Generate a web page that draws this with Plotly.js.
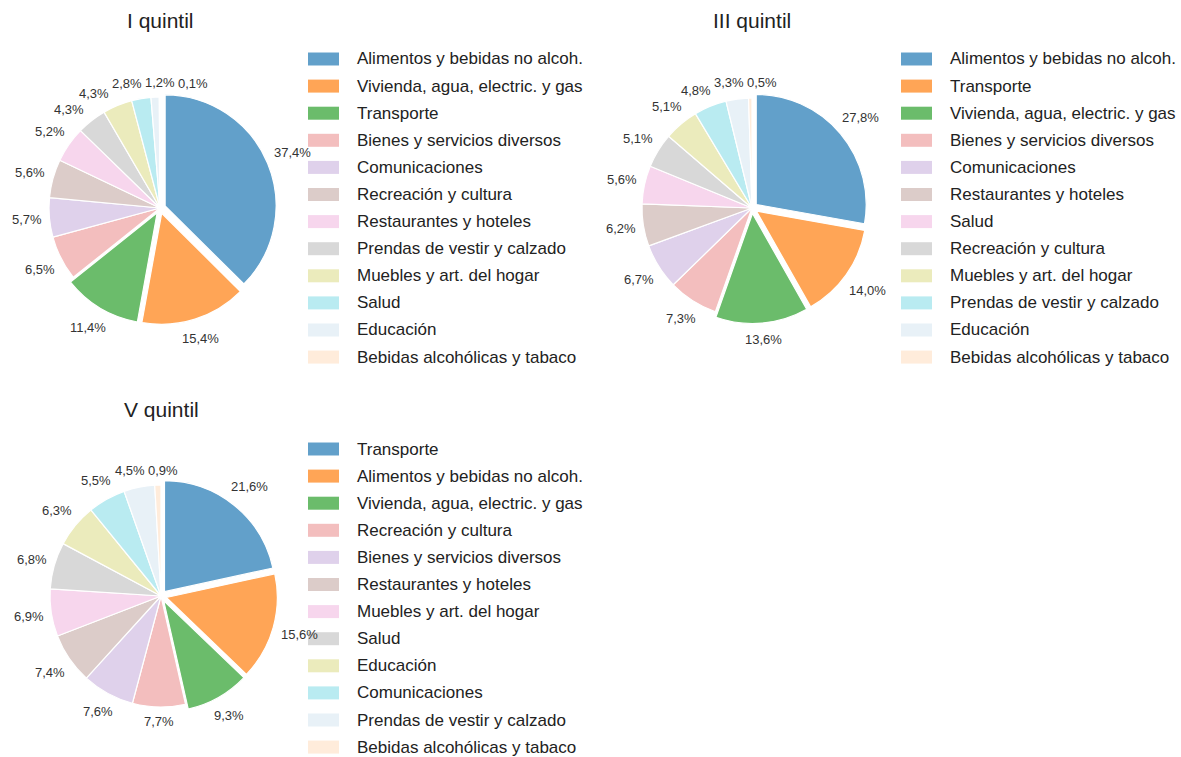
<!DOCTYPE html>
<html><head><meta charset="utf-8">
<script src="https://cdn.plot.ly/plotly-3.0.1.min.js"></script>
<style>html,body{margin:0;padding:0;background:#fff}</style>
</head><body><div id="chart" style="width:1181px;height:757px"></div>
<script>
// ---- data ----
const titles = ['I quintil', 'III quintil', 'V quintil'];

const labelsQ1 = ['Alimentos y bebidas no alcoh.', 'Vivienda, agua, electric. y gas', 'Transporte',
  'Bienes y servicios diversos', 'Comunicaciones', 'Recreación y cultura', 'Restaurantes y hoteles',
  'Prendas de vestir y calzado', 'Muebles y art. del hogar', 'Salud', 'Educación', 'Bebidas alcohólicas y tabaco'];
const valuesQ1 = [37.4, 15.4, 11.4, 6.5, 5.7, 5.6, 5.2, 4.3, 4.3, 2.8, 1.2, 0.1];

const labelsQ3 = ['Alimentos y bebidas no alcoh.', 'Transporte', 'Vivienda, agua, electric. y gas',
  'Bienes y servicios diversos', 'Comunicaciones', 'Restaurantes y hoteles', 'Salud',
  'Recreación y cultura', 'Muebles y art. del hogar', 'Prendas de vestir y calzado', 'Educación', 'Bebidas alcohólicas y tabaco'];
const valuesQ3 = [27.8, 14.0, 13.6, 7.3, 6.7, 6.2, 5.6, 5.1, 5.1, 4.8, 3.3, 0.5];

const labelsQ5 = ['Transporte', 'Alimentos y bebidas no alcoh.', 'Vivienda, agua, electric. y gas',
  'Recreación y cultura', 'Bienes y servicios diversos', 'Restaurantes y hoteles', 'Muebles y art. del hogar',
  'Salud', 'Educación', 'Comunicaciones', 'Prendas de vestir y calzado', 'Bebidas alcohólicas y tabaco'];
const valuesQ5 = [21.6, 15.6, 9.3, 7.7, 7.6, 7.4, 6.9, 6.8, 6.3, 5.5, 4.5, 0.9];

// ---- styles ----
const sliceColors = ['rgba(31,119,180,0.7)', 'rgba(255,127,14,0.7)', 'rgba(44,160,44,0.7)',
  'rgba(214,39,40,0.3)', 'rgba(148,103,189,0.3)', 'rgba(140,86,75,0.3)', 'rgba(227,119,194,0.3)',
  'rgba(127,127,127,0.3)', 'rgba(188,189,34,0.3)', 'rgba(23,190,207,0.3)', 'rgba(31,119,180,0.1)',
  'rgba(255,127,14,0.15)'];
const pulls = [0.05, 0.05, 0.05, 0, 0, 0, 0, 0, 0, 0, 0, 0];
const W = 1181, H = 757;
const FONT = 'Liberation Sans, Arial, sans-serif';
const LABEL_SIZE = 13;
const panels = [
  {labels: labelsQ1, values: valuesQ1, cx: 160, cy: 208, r: 111, legX: 308, legY: 59, titleY: 20},
  {labels: labelsQ3, values: valuesQ3, cx: 752, cy: 208, r: 110, legX: 901, legY: 59, titleY: 20},
  {labels: labelsQ5, values: valuesQ5, cx: 161, cy: 596, r: 111, legX: 308, legY: 449, titleY: 410}
];
const rowStep = 27.1;

const px = x => x / W;
const py = y => 1 - y / H;
const fmt = v => v.toFixed(1).replace('.', ',') + '%';
const textWidth = s => {
  let w = 0;
  for (const c of s) w += (c === ',' ? 0.278 : c === '%' ? 0.889 : 0.556) * LABEL_SIZE;
  return w;
};
const angDiff = d => ((d + 180) % 360 + 360) % 360 - 180;

const traces = [];
const shapes = [];
const annotations = [];
panels.forEach((p, k) => {
  const half = p.r * (1 + Math.max(...pulls));
  traces.push({
    type: 'pie',
    labels: p.labels,
    values: p.values,
    sort: false,
    direction: 'clockwise',
    rotation: 0,
    pull: pulls,
    marker: {colors: sliceColors, line: {color: '#ffffff', width: 1.2}},
    textinfo: 'none',
    hoverinfo: 'none',
    showlegend: false,
    automargin: false,
    domain: {x: [px(p.cx - half), px(p.cx + half)], y: [py(p.cy + half), py(p.cy - half)]}
  });

  // percentage labels just outside each slice's mid angle, spread apart where they collide
  const total = p.values.reduce((a, b) => a + b, 0);
  let cum = 0;
  const items = p.values.map((v, i) => {
    const mid = (cum + v / 2) / total * 360;
    cum += v;
    const rad = mid * Math.PI / 180;
    const off = pulls[i] * p.r;
    const txt = fmt(v);
    return {ang: mid, ox: p.cx + off * Math.sin(rad), oy: p.cy - off * Math.cos(rad),
            w: textWidth(txt), h: 15, txt: txt};
  });
  const gap = 1.065 * p.r;
  const pos = it => {
    const a = it.ang * Math.PI / 180;
    const s = Math.sin(a), c = Math.cos(a);
    const d = gap + (it.w / 2) * Math.abs(s) + (it.h / 2) * Math.abs(c);
    return [it.ox + d * s, it.oy - d * c];
  };
  for (let iter = 0; iter < 3000; iter++) {
    let moved = false;
    for (let i = 0; i < items.length; i++) {
      for (let j = i + 1; j < items.length; j++) {
        const [xi, yi] = pos(items[i]);
        const [xj, yj] = pos(items[j]);
        if (Math.abs(xi - xj) < (items[i].w + items[j].w) / 2 + 3 &&
            Math.abs(yi - yj) < (items[i].h + items[j].h) / 2 + 1) {
          const s = angDiff(items[j].ang - items[i].ang) >= 0 ? 1 : -1;
          items[i].ang -= s * 0.2;
          items[j].ang += s * 0.2;
          moved = true;
        }
      }
    }
    if (!moved) break;
  }
  items.forEach(it => {
    const [x, y] = pos(it);
    annotations.push({
      text: it.txt, xref: 'paper', yref: 'paper', x: px(x), y: py(y),
      xanchor: 'center', yanchor: 'middle', showarrow: false,
      font: {family: FONT, size: LABEL_SIZE, color: '#333333'}
    });
  });

  annotations.push({
    text: titles[k], xref: 'paper', yref: 'paper', x: px(p.cx), y: py(p.titleY),
    xanchor: 'center', yanchor: 'middle', showarrow: false,
    font: {family: FONT, size: 21, color: '#222222'}
  });
  p.labels.forEach((lab, i) => {
    const yc = p.legY + i * rowStep;
    shapes.push({
      type: 'rect', xref: 'paper', yref: 'paper',
      x0: px(p.legX), x1: px(p.legX + 31), y0: py(yc + 6.5), y1: py(yc - 6.5),
      fillcolor: sliceColors[i], line: {width: 0}
    });
    annotations.push({
      text: lab, xref: 'paper', yref: 'paper', x: px(p.legX + 47), y: py(yc),
      xanchor: 'left', yanchor: 'middle', showarrow: false,
      font: {family: FONT, size: 17, color: '#222222'}
    });
  });
});

const layout = {
  width: W, height: H,
  margin: {l: 0, r: 0, t: 0, b: 0},
  paper_bgcolor: '#ffffff',
  plot_bgcolor: '#ffffff',
  separators: ',.',
  font: {family: FONT, color: '#333333'},
  showlegend: false,
  shapes: shapes,
  annotations: annotations
};
Plotly.newPlot('chart', traces, layout, {displayModeBar: false, staticPlot: true});
</script>
</body></html>
